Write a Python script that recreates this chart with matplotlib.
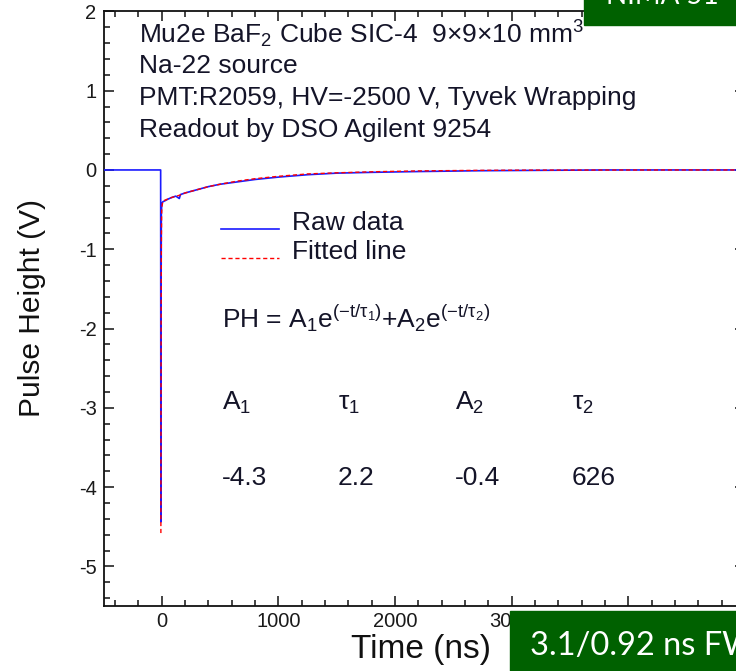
import numpy as np
import matplotlib
matplotlib.use("Agg")
import matplotlib.pyplot as plt
from matplotlib.ticker import MultipleLocator, FormatStrFormatter
from matplotlib.legend_handler import HandlerLine2D
from matplotlib.patches import Rectangle
from matplotlib.lines import Line2D

plt.rcParams['font.family'] = ['Liberation Sans', 'DejaVu Sans']
plt.rcParams['axes.unicode_minus'] = False
plt.rcParams['mathtext.fontset'] = 'custom'
plt.rcParams['mathtext.rm'] = 'Liberation Sans'
plt.rcParams['mathtext.it'] = 'Liberation Sans:italic'
plt.rcParams['mathtext.default'] = 'regular'

# ---------------- data ----------------
raw_time = [-500, -10, -8, -6, -4, 0, 10, 25, 50, 80, 120, 150, 160, 200, 300, 400,
            500, 650, 800, 1000, 1250, 1500, 1800, 2200, 2700, 3200, 3800, 4400, 5000]
raw_value = [0.0, 0.0, -4.44, -1.5, -0.55, -0.42, -0.40, -0.39, -0.37, -0.35, -0.33,
             -0.36, -0.31, -0.29, -0.25, -0.21, -0.18, -0.15, -0.12, -0.09, -0.06,
             -0.04, -0.03, -0.02, -0.01, -0.005, 0.0, 0.0, 0.0]

fit_time = [-8, -7, -6, -5, -4, -2, 0, 10, 30, 60, 100, 150, 200, 300, 400, 500, 650,
            800, 1000, 1250, 1500, 1800, 2200, 2700, 3200, 3800, 4400, 5000]
fit_value = [-4.58, -2.9, -1.9, -1.3, -0.95, -0.6, -0.47, -0.39, -0.38, -0.36, -0.34,
             -0.32, -0.29, -0.25, -0.21, -0.18, -0.14, -0.11, -0.08, -0.05, -0.036,
             -0.023, -0.012, -0.005, -0.002, -0.001, 0.0, 0.0]

series_labels = ['Raw data', 'Fitted line']
info_lines = ['Mu2e $\\mathregular{BaF_2}$ Cube SIC-4  9\u00d79\u00d710 $\\mathregular{mm^3}$',
              'Na-22 source',
              'PMT:R2059, HV=-2500 V, Tyvek Wrapping',
              'Readout by DSO Agilent 9254']
formula = 'PH = $\\mathregular{A_1e^{(-t/\u03c4_1)}{+}A_2e^{(-t/\u03c4_2)}}$'
param_names = ['$\\mathregular{A_1}$', '$\\mathregular{\u03c4_1}$',
               '$\\mathregular{A_2}$', '$\\mathregular{\u03c4_2}$']
param_values = ['-4.3', '2.2', '-0.4', '626']
x_label = 'Time (ns)'
y_label = 'Pulse Height (V)'
top_note = 'NIMA 51'
bottom_note = '3.1/0.92 ns FWHM'

# ---------------- layout ----------------
W, H = 736, 671
AX_L, AX_R, AX_T, AX_B = 103.5, 745.0, 11.4, 606.0
AX_W, AX_H = AX_R - AX_L, AX_B - AX_T


def axf(px, py):
    return ((px - AX_L) / AX_W, (AX_B - py) / AX_H)


fig = plt.figure(figsize=(W / 100, H / 100), dpi=100)
fig.patch.set_facecolor('white')
ax = fig.add_axes([AX_L / W, 1 - AX_B / H, AX_W / W, AX_H / H])

ax.plot(raw_time, raw_value, color='#1a1aff', lw=1.2, zorder=3, label=series_labels[0])
ax.plot(fit_time, fit_value, color='#ff0000', lw=1.0, ls=(0, (3, 2)), zorder=4,
        label=series_labels[1])

ax.set_xlim(-500, 5000)
ax.set_ylim(-5.5, 2)
ax.xaxis.set_major_locator(MultipleLocator(1000))
ax.xaxis.set_minor_locator(MultipleLocator(200))
ax.yaxis.set_major_locator(MultipleLocator(1))
ax.yaxis.set_minor_locator(MultipleLocator(0.2))
ax.xaxis.set_major_formatter(FormatStrFormatter('%d'))
ax.yaxis.set_major_formatter(FormatStrFormatter('%d'))
ax.tick_params(which='both', direction='in', top=True, right=True, width=1.1,
               color='#111111')
ax.tick_params(which='major', length=7.5, labelsize=14.5, labelcolor='#1a1a1a')
ax.tick_params(which='minor', length=4)
ax.tick_params(axis='x', which='major', pad=4)
ax.tick_params(axis='y', which='major', pad=5)
for s in ax.spines.values():
    s.set_linewidth(1.3)
    s.set_color('#111111')

ax.set_xlabel(x_label, fontsize=24, color='#111111')
ax.xaxis.set_label_coords(*axf(421, 634))
ax.set_ylabel(y_label, fontsize=21.5, color='#111111')
ax.yaxis.set_label_coords(*axf(46, 308))

# info text
FS = 19
TXT = dict(fontsize=FS, color='#141428', transform=ax.transAxes, va='baseline', ha='left')
for line, by in zip(info_lines, [43, 73, 105, 137]):
    ax.text(*axf(139, by), line, **TXT)

ax.text(*axf(222, 328), formula, **TXT)
for name, val, px in zip(param_names, param_values, [222, 338, 455, 572]):
    ax.text(*axf(px, 410), name, **TXT)
    ax.text(*axf(px, 485), val, **TXT)


class BaselineLine(HandlerLine2D):
    def create_artists(self, legend, orig_handle, xdescent, ydescent, width, height,
                       fontsize, trans):
        arts = super().create_artists(legend, orig_handle, xdescent, ydescent, width,
                                      height, fontsize, trans)
        for a in arts:
            a.set_ydata(np.asarray(a.get_ydata()) - 0.3 * fontsize)
        return arts


handles, labels = ax.get_legend_handles_labels()
leg = ax.legend(handles, labels, loc='upper left', bbox_to_anchor=axf(221, 211),
                frameon=False, fontsize=FS, handlelength=2.2, handletextpad=0.48,
                borderpad=0, borderaxespad=0, labelspacing=0.2,
                handler_map={Line2D: BaselineLine()})
for t in leg.get_texts():
    t.set_color('#141428')

# green overlay boxes
GREEN = '#006100'
fig.add_artist(Rectangle((584 / W, 1 - 25 / H), (W - 584) / W + 0.01, 25 / H + 0.01,
                         transform=fig.transFigure, color=GREEN, zorder=10))
fig.add_artist(Rectangle((510 / W, -0.01), (W - 510) / W + 0.01, (H - 611) / H + 0.01,
                         transform=fig.transFigure, color=GREEN, zorder=10))
fig.text(606 / W, 1 - 4 / H, top_note, color='white', fontsize=20,
         family=['Lato', 'DejaVu Sans'], va='baseline', ha='left', zorder=11)
fig.text(530 / W, 1 - 655 / H, bottom_note, color='white', fontsize=23.5,
         family=['Lato', 'DejaVu Sans'], va='baseline', ha='left', zorder=11)

fig.savefig('out.png', dpi=100)
